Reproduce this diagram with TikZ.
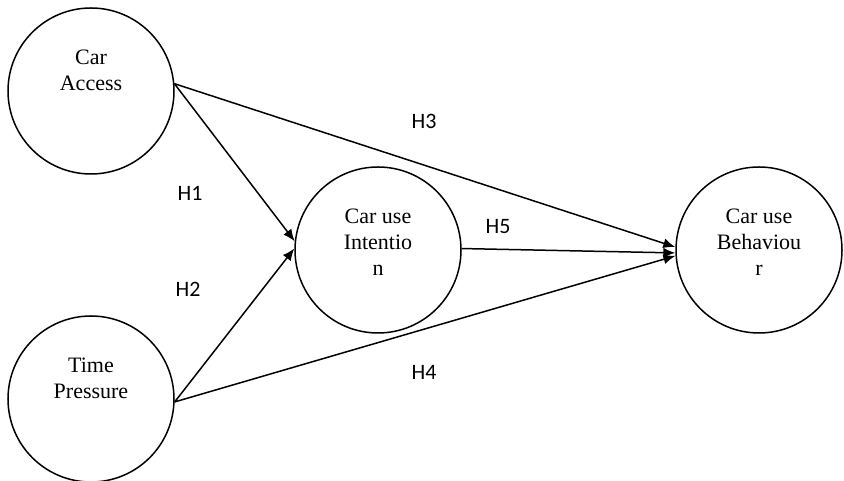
\documentclass[tikz,border=0pt]{standalone}
\usepackage{fontspec}
\setmainfont{Liberation Serif}
\newfontfamily\hfont{Carlito}
\usetikzlibrary{arrows.meta}
\tikzset{
  var/.style={circle, draw, line width=1.5pt, minimum size=166pt, inner sep=0pt},
  vartext/.style={anchor=base, inner sep=0pt, font=\fontsize{22}{26}\selectfont},
  link/.style={line width=1.5pt, -{Latex[length=12pt,width=10pt]}},
  hyp/.style={font=\hfont\fontsize{22}{26}\selectfont, inner sep=0pt}
}
\newcommand{\twolines}[1]{\begin{tabular}[t]{@{}c@{}}#1\end{tabular}}
\begin{document}
\begin{tikzpicture}[x=1pt,y=1pt]
\useasboundingbox (0,0) rectangle (844,481);
\node[var] (ca) at (91,390) {};
\node[var] (tp) at (91,82) {};
\node[var] (ci) at (378,231) {};
\node[var] (cb) at (759,231) {};
\node[vartext] (cat) at (91,416) {\twolines{Car\\Access}};
\node[vartext] (tpt) at (91,108) {\twolines{Time\\Pressure}};
\node[vartext] (cit) at (378,257) {\twolines{Car use\\Intentio\\n}};
\node[vartext] (cbt) at (759,257) {\twolines{Car use\\Behaviou\\r}};
\draw[link] (ca.5.5) -- (ci.174.5);
\draw[link] (tp.-2) -- (ci.179);
\draw[link] (ca.5.5) -- (cb.178);
\draw[link] (tp.-2) -- (cb.-176);
\draw[link] (ci.1.4) -- (cb.-178);
\node[hyp] (h1) at (190,288) {H1};
\node[hyp] (h2) at (188,192) {H2};
\node[hyp] (h3) at (424,360) {H3};
\node[hyp] (h4) at (424,109) {H4};
\node[hyp] (h5) at (498,254) {H5};
\end{tikzpicture}
\end{document}
